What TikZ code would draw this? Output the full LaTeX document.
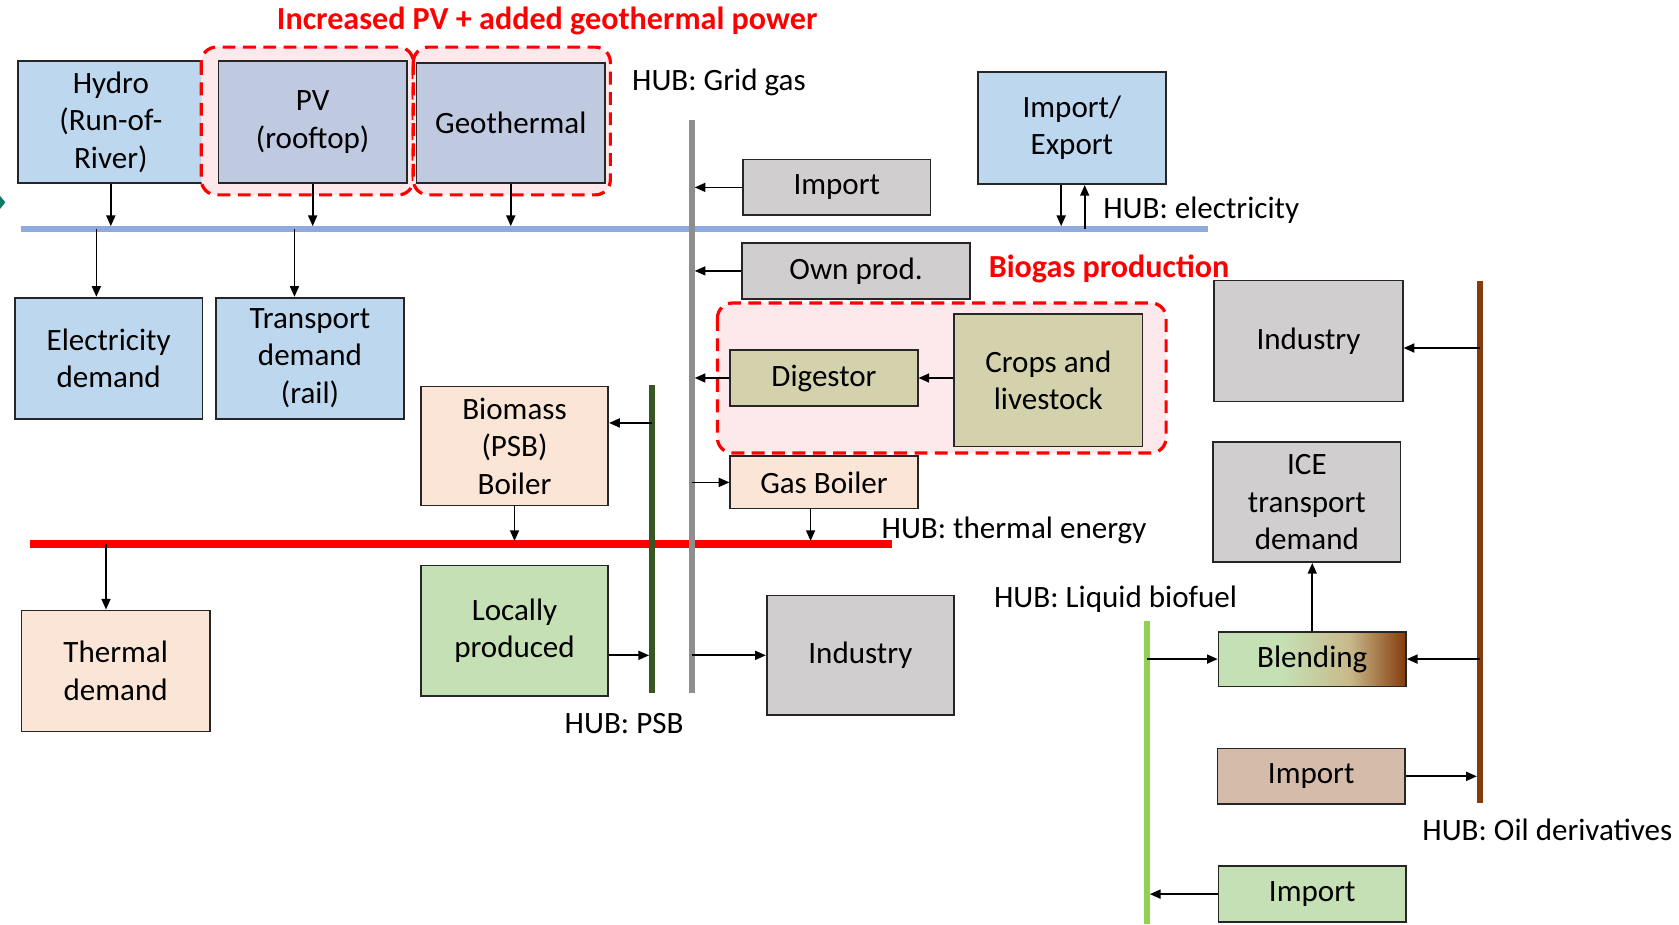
\documentclass[tikz,border=0pt]{standalone}
\usepackage{fontspec}
\setmainfont{Carlito}
\usetikzlibrary{arrows.meta,calc}
\definecolor{cBlue}{HTML}{BDD7EE}
\definecolor{cBlueG}{HTML}{BFCAE0}
\definecolor{cGray}{HTML}{D0CECE}
\definecolor{cOlive}{HTML}{D4D2AD}
\definecolor{cPeach}{HTML}{FBE5D6}
\definecolor{cGreen}{HTML}{C5E0B4}
\definecolor{cRose}{HTML}{D5BBA9}
\definecolor{cPink}{HTML}{FDE9EC}
\definecolor{hElec}{HTML}{8FAADC}
\definecolor{hGas}{HTML}{8E8E8E}
\definecolor{hPSB}{HTML}{375623}
\definecolor{hOil}{HTML}{843C0C}
\definecolor{hBio}{HTML}{92D050}
\definecolor{hTherm}{HTML}{FF0000}
\definecolor{bTan}{HTML}{C8B98A}
\definecolor{cTeal}{HTML}{0E7C66}
\pgfdeclarehorizontalshading{blendshade}{100bp}{color(0bp)=(cGreen); color(25bp)=(cGreen); color(42bp)=(cGreen); color(60bp)=(bTan); color(75bp)=(hOil); color(100bp)=(hOil)}
\newcommand\boxfont{\fontsize{14.5}{17.5}\selectfont}
\newcommand\redfont{\fontsize{15}{18}\selectfont\bfseries}
\newcommand\bx[7]{%
  \pgfmathsetmacro\bxcx{(#2+#4)/2}%
  \pgfmathsetmacro\bxcy{(#3+#5)/2}%
  \pgfmathsetmacro\bxw{(#4-#2)*0.5}%
  \pgfmathsetmacro\bxh{(#5-#3)*0.5}%
  \node[box,#6,minimum width=\bxw pt,minimum height=\bxh pt] (#1) at (\bxcx,\bxcy) {#7};}
\begin{document}
\begin{tikzpicture}[x=0.5pt,y=-0.5pt,
  box/.style={draw=black!85,line width=0.8pt,inner sep=0pt,align=center,font=\boxfont},
  arr/.style={line width=0.8pt,-{Triangle[length=5pt,width=4.2pt]}},
  tohub/.style={arr,shorten >=1.4pt},
  hub/.style={line width=3pt},
  hubl/.style={anchor=west,font=\boxfont,inner sep=0pt},
  redl/.style={font=\redfont,text=red,inner sep=0pt},
  reddash/.style={draw=red,line width=1.5pt,dash pattern=on 6pt off 3.5pt,rounded corners=7pt,fill=cPink}]
\useasboundingbox (0,0) rectangle (1568,863);
% left edge sliver
\fill[cTeal] (-4,178) -- (5,189) -- (-4,200) -- cycle;
% title
\node[redl] (title) at (511,20) {Increased PV + added geothermal power};
% top sources
\bx{hydro}{17}{57}{190}{171}{fill=cBlue}{Hydro\\(Run-of-\\River)}
\draw[reddash] (188,44) rectangle (386,182);
\draw[reddash] (386,44) rectangle (570,182);
\bx{pv}{204}{57}{380}{171}{fill=cBlueG}{PV\\(rooftop)}
\bx{geo}{389}{59}{565}{171}{fill=cBlueG}{Geothermal}
\bx{impexp}{913}{67}{1089}{172}{fill=cBlue}{Import/\\Export}
\bx{gimp}{694}{149}{869}{201}{fill=cGray}{Import}
\bx{own}{693}{227}{906}{279}{fill=cGray}{Own prod.}
% demand
\bx{elecd}{14}{278}{189}{391}{fill=cBlue}{Electricity\\demand}
\bx{trans}{202}{278}{377}{391}{fill=cBlue}{Transport\\demand\\(rail)}
% biogas
\draw[reddash] (670,283) rectangle (1089,423);
\bx{dig}{682}{327}{857}{379}{fill=cOlive}{Digestor}
\bx{crops}{891}{293}{1067}{417}{fill=cOlive}{Crops and\\livestock}
\node[redl,anchor=west] (biogas) at (923,251) {Biogas production};
\bx{gboil}{682}{426}{857}{475}{fill=cPeach}{Gas Boiler}
\bx{bboil}{393}{361}{568}{472}{fill=cPeach}{Biomass\\(PSB)\\Boiler}
\bx{thd}{20}{570}{196}{683}{fill=cPeach}{Thermal\\demand}
\bx{loc}{393}{528}{568}{650}{fill=cGreen}{Locally\\produced}
\bx{gind}{716}{556}{891}{668}{fill=cGray}{Industry}
% right side
\bx{oind}{1134}{262}{1310}{375}{fill=cGray}{Industry}
\bx{ice}{1133}{413}{1308}{525}{fill=cGray}{ICE\\transport\\demand}
\bx{blend}{1138}{590}{1313}{641}{shading=blendshade}{Blending}
\bx{oimp}{1137}{699}{1312}{751}{fill=cRose}{Import}
\bx{bimp}{1138}{809}{1313}{861}{fill=cGreen}{Import}
% hubs
\coordinate (eL) at (20,214); \coordinate (eR) at (1128,214);
\coordinate (tL) at (28,508); \coordinate (tR) at (833,508);
\coordinate (gT) at (646,112); \coordinate (gB) at (646,647);
\coordinate (pT) at (609,360); \coordinate (pB) at (609,647);
\coordinate (oT) at (1382,262); \coordinate (oB) at (1382,750);
\coordinate (lT) at (1071,580); \coordinate (lB) at (1071,863);
\draw[hub,hElec] (eL) -- (eR);
\draw[hub,hTherm,line width=3.5pt] (tL) -- (tR);
\draw[hub,hGas] (gT) -- (gB);
\draw[hub,hPSB] (pT) -- (pB);
\draw[hub,hOil] (oT) -- (oB);
\draw[hub,hBio] (lT) -- (lB);
% hub labels
\node[hubl] (lgas) at (590,77) {HUB: Grid gas};
\node[hubl] (lelec) at (1030,196) {HUB: electricity};
\node[hubl] (ltherm) at (823,495) {HUB: thermal energy};
\node[hubl] (lpsb) at (527,676) {HUB: PSB};
\node[hubl] (lbio) at (928,560) {HUB: Liquid biofuel};
\node[hubl] (loil) at (1328,775) {HUB: Oil derivatives};
% electricity arrows
\draw[tohub] (hydro.south) -- (hydro.south |- eL);
\draw[tohub] (pv.south) -- (pv.south |- eL);
\draw[tohub] (geo.south) -- (geo.south |- eL);
\draw[arr] ([xshift=-5.75pt]elecd.north |- eL) -- ([xshift=-5.75pt]elecd.north);
\draw[arr] ([xshift=-7.25pt]trans.north |- eL) -- ([xshift=-7.25pt]trans.north);
\draw[tohub] ([xshift=-5pt]impexp.south) -- ([xshift=-5pt]impexp.south |- eL);
\draw[arr] ([xshift=6pt]impexp.south |- eL) -- ([xshift=6pt]impexp.south);
% gas arrows
\draw[tohub] (gimp.west) -- (gimp.west -| gT);
\draw[tohub] (own.west) -- (own.west -| gT);
\draw[tohub] (dig.west) -- (dig.west -| gT);
\draw[arr] (crops.west |- dig.east) -- (dig.east);
\draw[arr] (gboil.west -| gT) -- (gboil.west);
\draw[arr] (gind.west -| gT) -- (gind.west);
\draw[tohub] ([xshift=-6.25pt]gboil.south) -- ([xshift=-6.25pt]gboil.south |- tL);
% PSB / thermal
\draw[arr] ([yshift=10.75pt]bboil.east -| pT) -- ([yshift=10.75pt]bboil.east);
\draw[tohub] (bboil.south) -- (bboil.south |- tL);
\draw[tohub] ([yshift=-11.5pt]loc.east) -- ([yshift=-11.5pt]loc.east -| pT);
\draw[arr] ([xshift=-4.5pt]thd.north |- tL) -- ([xshift=-4.5pt]thd.north);
% oil / biofuel
\draw[arr] ([yshift=-3.25pt]oind.east -| oT) -- ([yshift=-3.25pt]oind.east);
\draw[arr] (blend.east -| oT) -- (blend.east);
\draw[arr] (blend.west -| lT) -- (blend.west);
\draw[arr] (blend.north) -- (blend.north |- ice.south);
\draw[tohub] (oimp.east) -- (oimp.east -| oT);
\draw[tohub] (bimp.west) -- (bimp.west -| lT);
\end{tikzpicture}
\end{document}
